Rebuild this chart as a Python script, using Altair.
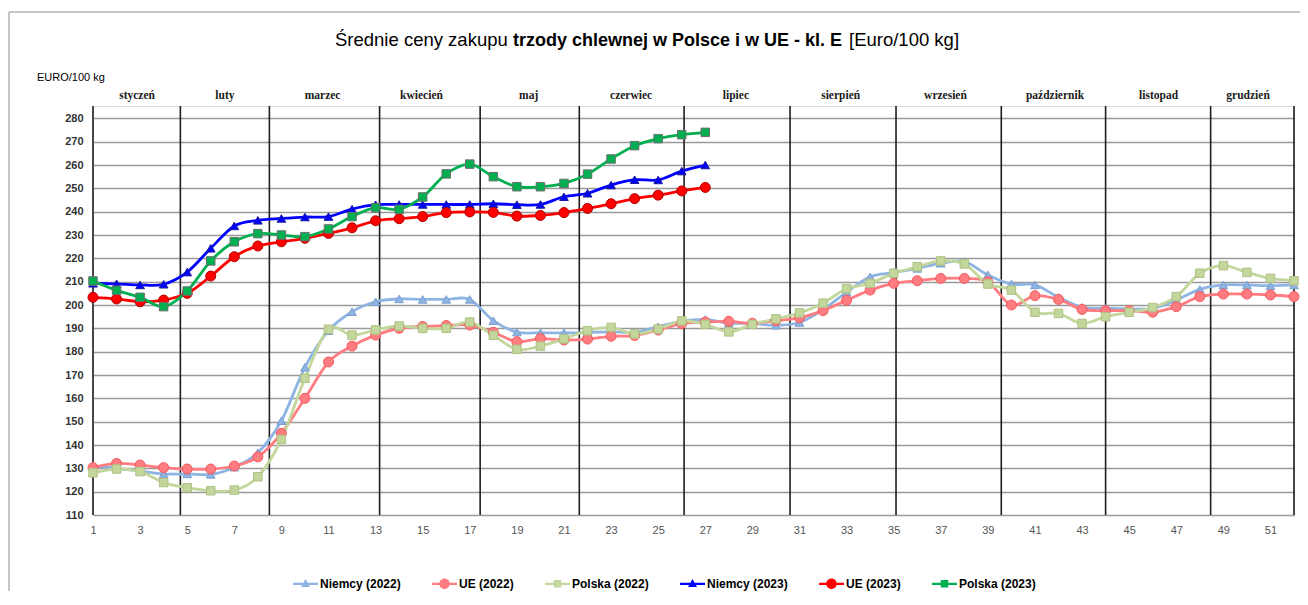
import altair as alt
import pandas as pd

# ---------------- data ----------------
series_names = ["Niemcy (2022)", "UE (2022)", "Polska (2022)",
                "Niemcy (2023)", "UE (2023)", "Polska (2023)"]

weeks_2022 = list(range(1, 53))
weeks_2023 = list(range(1, 28))

niemcy_2022 = [131.0, 130.0, 128.8, 127.6, 127.6, 127.4, 130.5, 136.7, 150.4, 173.3,
               189.0, 197.1, 201.4, 202.6, 202.4, 202.4, 202.4, 193.3, 188.4, 188.1,
               188.1, 188.2, 188.5, 188.3, 190.7, 193.0, 193.8, 192.2, 192.1, 191.3,
               192.5, 198.0, 205.5, 212.1, 213.9, 215.7, 217.9, 218.6, 212.9, 209.0,
               208.6, 203.3, 199.0, 198.6, 198.3, 198.6, 202.1, 206.7, 208.6, 208.6,
               208.3, 208.6]
ue_2022 = [130.3, 132.1, 131.4, 130.3, 129.7, 129.7, 131.0, 134.9, 145.0, 160.0,
           175.6, 182.4, 187.1, 190.0, 190.8, 191.2, 191.4, 188.3, 184.3, 185.6,
           185.0, 185.4, 186.6, 186.9, 189.3, 192.0, 192.7, 193.0, 192.2, 193.3,
           194.5, 197.6, 202.0, 206.4, 209.3, 210.4, 211.4, 211.4, 210.0, 200.0,
           204.0, 202.4, 198.1, 197.6, 197.6, 196.9, 199.3, 203.6, 204.7, 204.7,
           204.3, 203.6]
polska_2022 = [128.1, 129.7, 128.6, 123.9, 121.7, 120.4, 120.7, 126.4, 142.4, 168.6,
               189.6, 187.1, 189.3, 191.0, 190.0, 190.0, 192.7, 187.0, 181.0, 182.4,
               185.5, 189.0, 190.4, 187.6, 189.7, 193.2, 191.7, 188.5, 191.7, 194.1,
               196.6, 200.8, 207.0, 209.3, 213.6, 216.4, 218.9, 217.6, 209.0, 206.4,
               196.9, 196.4, 192.1, 195.0, 196.9, 198.9, 203.6, 213.6, 216.9, 214.0,
               211.4, 210.4]
niemcy_2023 = [209.3, 209.1, 208.6, 208.9, 214.1, 224.3, 233.9, 236.3, 237.1, 237.7,
               237.9, 241.1, 243.0, 243.1, 243.1, 243.1, 243.1, 243.4, 243.0, 243.1,
               246.4, 247.9, 251.4, 253.7, 253.6, 257.4, 260.0]
ue_2023 = [203.3, 202.6, 201.4, 202.1, 205.0, 212.4, 220.7, 225.3, 227.1, 228.6,
           230.7, 233.1, 236.1, 237.0, 237.9, 239.6, 239.9, 239.7, 238.1, 238.4,
           239.6, 241.4, 243.4, 245.6, 247.1, 248.9, 250.4]
polska_2023 = [210.3, 206.3, 203.3, 199.3, 206.0, 218.9, 227.1, 230.6, 230.0, 229.3,
               232.6, 237.9, 241.7, 241.0, 246.3, 256.2, 260.4, 255.0, 250.7, 250.7,
               252.1, 256.1, 262.6, 268.3, 271.3, 273.0, 274.0]

month_names = ["styczeń", "luty", "marzec", "kwiecień", "maj", "czerwiec", "lipiec",
               "sierpień", "wrzesień", "październik", "listopad", "grudzień"]
month_centres = [2.87, 6.6, 10.75, 14.95, 19.5, 23.85, 28.3, 32.75, 37.2, 41.85, 46.25, 50.05]
month_bounds = [1, 4.71, 8.49, 13.17, 17.44, 21.65, 26.1, 30.6, 35.1, 39.57, 44.0, 48.46, 52]

y_ticks = list(range(110, 281, 10))
x_ticks = list(range(1, 52, 2))

title_parts = ["Średnie ceny zakupu", "trzody chlewnej w Polsce i w UE - kl. E", "[Euro/100 kg]"]
y_unit = "EURO/100 kg"

# ---------------- styles ----------------
line_colors = ["#8DB4E2", "#FF7C80", "#C3D69B", "#0000FF", "#FF0000", "#00B050"]
edge_colors = ["#7A9FD0", "#F25A5E", "#AFC285", "#1A1A9A", "#B00000", "#6E6E6E"]

FONT = "Liberation Sans"

rows = []
for name, wks, vals in [
    (series_names[0], weeks_2022, niemcy_2022),
    (series_names[1], weeks_2022, ue_2022),
    (series_names[2], weeks_2022, polska_2022),
    (series_names[3], weeks_2023, niemcy_2023),
    (series_names[4], weeks_2023, ue_2023),
    (series_names[5], weeks_2023, polska_2023),
]:
    for w, v in zip(wks, vals):
        rows.append({"series": name, "week": w, "value": v})
df = pd.DataFrame(rows)

xscale = alt.Scale(domain=[1, 52], nice=False, zero=False)
yscale = alt.Scale(domain=[110, 285.3], nice=False, zero=False)
xaxis = alt.Axis(values=x_ticks, grid=False, domain=False, ticks=False, tickSize=0,
                 labelPadding=9, labelFont=FONT, labelFontSize=11, labelColor="#555555",
                 title=None, labelFlush=False, labelOverlap=False)
yaxis = alt.Axis(values=y_ticks, grid=True, gridColor="#9a9a9a", gridWidth=1.4,
                 domain=False, ticks=False, tickSize=0, labelPadding=10,
                 labelFont=FONT, labelFontSize=11, labelFontWeight="bold",
                 labelColor="#333333", title=None, labelOverlap=False)


def X(field):
    return alt.X(field, type="quantitative", scale=xscale, axis=xaxis)


def Y(field):
    return alt.Y(field, type="quantitative", scale=yscale, axis=yaxis)


color_scale = alt.Scale(domain=series_names, range=line_colors)
fill_scale = alt.Scale(domain=series_names, range=line_colors)
edge_scale = alt.Scale(domain=series_names, range=edge_colors)

# legend symbols: line segment + marker (custom paths, same winding direction)
tri = "M-1,-0.09L1,-0.09L1,0.09L-1,0.09Z M0,-0.38L0.36,0.26L-0.36,0.26Z"
cir = "M-1,-0.09L1,-0.09L1,0.09L-1,0.09Z M-0.42,0A0.42,0.42 0 1,1 0.42,0A0.42,0.42 0 1,1 -0.42,0Z"
sqr = "M-1,-0.09L1,-0.09L1,0.09L-1,0.09Z M-0.3,-0.3L0.3,-0.3L0.3,0.3L-0.3,0.3Z"
legend_paths = [tri, cir, sqr, tri, cir, sqr]

legend = alt.Legend(title=None, orient="none", legendX=200, legendY=465,
                    direction="horizontal", symbolSize=625, symbolStrokeWidth=0,
                    symbolOpacity=1, labelOffset=2, columnPadding=31, padding=0,
                    labelFont=FONT, labelFontSize=12, labelFontWeight="bold",
                    labelColor="#000000")

base = alt.Chart(df)

# frame
frame_top = alt.Chart(pd.DataFrame({"a": [0]})).mark_rule(color="#8c8c8c", strokeWidth=1).encode(
    x=alt.value(-84), x2=alt.value(1210), y=alt.value(-94))
frame_left = alt.Chart(pd.DataFrame({"a": [0]})).mark_rule(color="#8c8c8c", strokeWidth=1).encode(
    x=alt.value(-84), y=alt.value(-94), y2=alt.value(600))

# month separators
month_rules = alt.Chart(pd.DataFrame({"b": month_bounds})).mark_rule(
    color="#1e1e1e", strokeWidth=1.6).encode(x=X("b"))

month_text = alt.Chart(pd.DataFrame({"m": month_names, "c": month_centres})).mark_text(
    font="Liberation Serif", fontSize=11.5, fontWeight="bold", color="#1a1a1a",
    baseline="alphabetic", align="center").encode(x=X("c"), y=alt.value(-7.5), text="m:N")

# invisible layer carrying the legend (line + marker symbols)
legend_layer = base.mark_point(filled=True, opacity=0, size=4).encode(
    x=X("week"), y=Y("value"),
    color=alt.Color("series:N", scale=color_scale, legend=legend),
    shape=alt.Shape("series:N", scale=alt.Scale(domain=series_names, range=legend_paths), legend=legend),
)

lines = base.mark_line(interpolate="cardinal", strokeWidth=2.8).encode(
    x=X("week"), y=Y("value"),
    color=alt.Color("series:N", scale=color_scale, legend=None))


def markers(shape, size, names):
    return base.mark_point(shape=shape, filled=True, size=size, strokeWidth=1, opacity=1).encode(
        x=X("week"), y=Y("value"),
        fill=alt.Fill("series:N", scale=fill_scale, legend=None),
        stroke=alt.Stroke("series:N", scale=edge_scale, legend=None),
    ).transform_filter(alt.FieldOneOfPredicate(field="series", oneOf=names))


tri_pts = markers("triangle-up", 75, [series_names[0], series_names[3]])
cir_pts = markers("circle", 100, [series_names[1], series_names[4]])
sqr_pts = markers("square", 72, [series_names[2], series_names[5]])

t1 = alt.Chart(pd.DataFrame({"t": [title_parts[0]]})).mark_text(
    font=FONT, fontSize=18.5, align="left", baseline="alphabetic", color="#000000").encode(
    x=alt.value(242), y=alt.value(-60), text="t:N")
t2 = alt.Chart(pd.DataFrame({"t": [title_parts[1]]})).mark_text(
    font=FONT, fontSize=18, fontWeight="bold", align="left", baseline="alphabetic", color="#000000").encode(
    x=alt.value(420), y=alt.value(-60), text="t:N")
t3 = alt.Chart(pd.DataFrame({"t": [title_parts[2]]})).mark_text(
    font=FONT, fontSize=18.5, align="left", baseline="alphabetic", color="#000000").encode(
    x=alt.value(756), y=alt.value(-60), text="t:N")
unit = alt.Chart(pd.DataFrame({"t": [y_unit]})).mark_text(
    font=FONT, fontSize=11, align="left", baseline="alphabetic", color="#000000").encode(
    x=alt.value(-56), y=alt.value(-25), text="t:N")

chart = alt.layer(
    frame_top, frame_left, month_rules, legend_layer, lines, tri_pts, cir_pts, sqr_pts,
    month_text, t1, t2, t3, unit
).properties(
    width=1201, height=409,
    autosize=alt.AutoSizeParams(type="none"),
    padding={"left": 85, "top": 98, "right": 6, "bottom": 76},
).configure_view(stroke=None).configure(background="#ffffff")

chart.save("out.html", embed_options={"renderer": "svg", "actions": False})
